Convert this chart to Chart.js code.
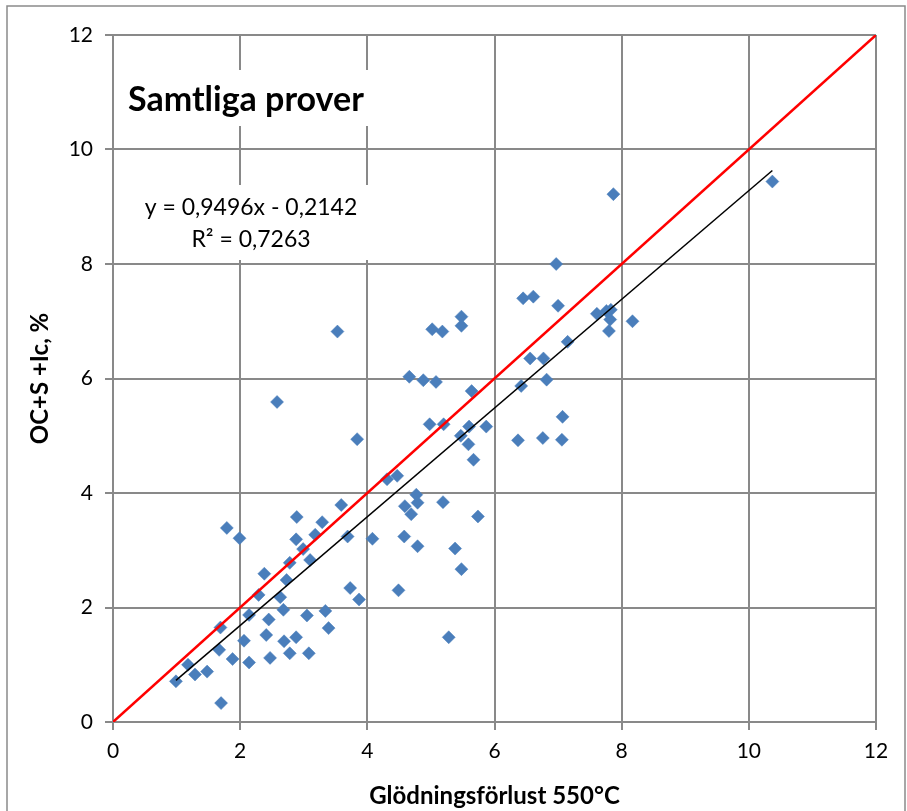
<!DOCTYPE html>
<html>
<head>
<meta charset="utf-8">
<script src="https://cdn.jsdelivr.net/npm/chart.js@4/dist/chart.umd.min.js"></script>
<style>
  html, body { margin: 0; padding: 0; background: #fff; }
  #wrap { width: 907px; height: 811px; }
</style>
</head>
<body>
<div id="wrap"><canvas id="chart" width="907" height="811"></canvas></div>
<script>
// Glödningsförlust 550°C (x) and OC+S+Ic (y)
const lossOnIgnition = [
  0.99, 1.18, 1.29, 1.48, 1.70, 1.67, 1.69, 1.79, 1.99, 1.88,
  2.06, 2.14, 2.14, 2.29, 2.38, 2.41, 2.45, 2.47, 2.63, 2.68,
  2.73, 2.69, 2.78, 2.88, 2.78, 2.89, 2.88, 2.99, 3.10, 3.08,
  3.05, 3.18, 3.29, 3.34, 3.39, 3.59, 3.69, 3.73, 3.87, 3.84,
  2.58, 3.53, 4.08, 4.31, 4.47, 4.49, 4.58, 4.59, 4.69, 4.77,
  4.79, 4.79, 5.19, 5.38, 5.48, 5.28, 5.74, 4.66, 4.88, 5.08,
  5.02, 5.18, 4.98, 5.20, 5.47, 5.60, 5.87, 5.59, 5.67, 5.64,
  5.48, 5.48, 6.37, 6.76, 7.06, 7.07, 6.42, 6.82, 6.56, 6.77,
  7.15, 6.45, 6.61, 6.97, 7.00, 7.61, 7.76, 7.83, 7.82, 7.80,
  8.17, 7.87, 10.37
];
const ocPlusSIc = [
  0.71, 1.00, 0.83, 0.88, 0.33, 1.26, 1.65, 3.39, 3.21, 1.10,
  1.42, 1.04, 1.87, 2.22, 2.59, 1.52, 1.79, 1.12, 2.18, 1.96,
  2.48, 1.41, 1.20, 1.48, 2.78, 3.58, 3.19, 3.02, 2.83, 1.20,
  1.86, 3.27, 3.49, 1.94, 1.64, 3.79, 3.24, 2.34, 2.14, 4.94,
  5.59, 6.82, 3.20, 4.24, 4.30, 2.30, 3.24, 3.77, 3.63, 3.97,
  3.83, 3.07, 3.84, 3.03, 2.67, 1.48, 3.59, 6.03, 5.97, 5.94,
  6.86, 6.82, 5.20, 5.20, 5.00, 5.16, 5.16, 4.85, 4.58, 5.78,
  7.08, 6.92, 4.92, 4.96, 4.93, 5.33, 5.87, 5.98, 6.35, 6.35,
  6.64, 7.40, 7.43, 8.00, 7.27, 7.13, 7.18, 7.20, 7.03, 6.83,
  7.00, 9.22, 9.44
];
const fitSlope = 0.9496;
const fitIntercept = -0.2142;
const fitLabel = ["y = 0,9496x - 0,2142", "R² = 0,7263"];
const chartTitle = "Samtliga prover";
const xTitle = "Glödningsförlust 550°C";
const yTitle = "OC+S +Ic, %";
const axisMax = 12;
const axisStep = 2;

const points = lossOnIgnition.map((x, i) => ({ x: x, y: ocPlusSIc[i] }));
const xMin = Math.min(...lossOnIgnition);
const xMax = Math.max(...lossOnIgnition);
const trendLine = [xMin, xMax].map((x) => ({ x: x, y: fitSlope * x + fitIntercept }));
const oneToOne = [{ x: 0, y: 0 }, { x: axisMax, y: axisMax }];

const gridColor = "#898989";
const font = "Lato, 'Open Sans', sans-serif";

// white label boxes, the title and the fit equation, drawn over the grid
const labelsPlugin = {
  id: "labels",
  beforeDatasetsDraw(chart) {
    const ctx = chart.ctx;
    const a = chart.chartArea;
    ctx.save();
    ctx.fillStyle = "#fff";
    ctx.fillRect(a.left + 8, 70, 264, 56);
    ctx.fillRect(a.left + 20, 185, 240, 75);

    ctx.fillStyle = "#000";
    ctx.textBaseline = "middle";
    ctx.textAlign = "left";
    ctx.font = "bold 34px " + font;
    ctx.fillText(chartTitle, a.left + 15, 100);

    ctx.textAlign = "center";
    ctx.font = "23px " + font;
    ctx.fillText(fitLabel[0], 251, 208);
    ctx.fillText(fitLabel[1], 251, 240);
    ctx.restore();
  },
  afterDraw(chart) {
    const ctx = chart.ctx;
    ctx.save();
    ctx.strokeStyle = "#8a8a8a";
    ctx.lineWidth = 1.5;
    ctx.strokeRect(7, 6, 898, 830);
    ctx.restore();
  }
};

new Chart(document.getElementById("chart"), {
  type: "scatter",
  data: {
    datasets: [
      {
        label: "1:1",
        data: oneToOne,
        showLine: true,
        borderColor: "#ff0000",
        borderWidth: 2.5,
        pointRadius: 0
      },
      {
        label: "Linjär",
        data: trendLine,
        showLine: true,
        borderColor: "#000",
        borderWidth: 1.5,
        pointRadius: 0
      },
      {
        label: "Samtliga prover",
        data: points,
        pointStyle: "rectRot",
        pointRadius: 6.5,
        backgroundColor: "#4a7ebb",
        borderColor: "#4a7ebb",
        borderWidth: 0.5
      }
    ]
  },
  options: {
    responsive: false,
    animation: false,
    layout: { padding: { left: 0, top: 35, right: 31, bottom: 0 } },
    plugins: {
      legend: { display: false },
      tooltip: { enabled: false }
    },
    scales: {
      x: {
        min: 0,
        max: axisMax,
        afterFit: (scale) => { scale.height = 89; },
        ticks: {
          stepSize: axisStep,
          color: "#000",
          padding: 9,
          font: { family: font, size: 21 }
        },
        grid: { color: gridColor, lineWidth: 2, tickLength: 8 },
        border: { color: gridColor, width: 2 },
        title: {
          display: true,
          text: xTitle,
          color: "#000",
          padding: { top: 0, bottom: 0 },
          font: { family: font, size: 24, weight: "bold" }
        }
      },
      y: {
        min: 0,
        max: axisMax,
        afterFit: (scale) => { scale.width = 113; },
        ticks: {
          stepSize: axisStep,
          color: "#000",
          padding: 12,
          font: { family: font, size: 21 }
        },
        grid: { color: gridColor, lineWidth: 2, tickLength: 8 },
        border: { color: gridColor, width: 2 },
        title: {
          display: true,
          text: yTitle,
          color: "#000",
          padding: { top: 26, bottom: 0 },
          font: { family: font, size: 24, weight: "bold" }
        }
      }
    }
  },
  plugins: [labelsPlugin]
});
</script>
</body>
</html>
